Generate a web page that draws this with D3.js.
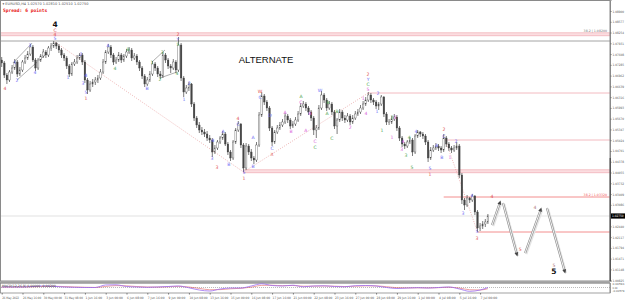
<!DOCTYPE html>
<html>
<head>
<meta charset="utf-8">
<script src="https://cdn.jsdelivr.net/npm/d3@7"></script>
<style>
html, body { margin: 0; padding: 0; background: #fff; overflow: hidden; }
svg { display: block; font-family: "DejaVu Sans", sans-serif; }
</style>
</head>
<body>
<script>
// EURUSD H4 bars, prices in pips (price * 10000)
const firstOpen = 10743;
const closes = [
  10734,10698,10683,10707,10719,10737,10701,10713,10737,10749,10761,10782,
  10743,10719,10743,10755,10767,10758,10779,10785,10794,10785,10773,10758,
  10749,10725,10701,10731,10737,10749,10758,10737,10683,10653,10671,10677,
  10683,10689,10707,10737,10767,10782,10758,10737,10743,10758,10743,10755,
  10767,10773,10749,10755,10737,10719,10695,10671,10683,10701,10731,10719,
  10701,10695,10758,10743,10725,10719,10737,10713,10788,10689,10647,10659,
  10671,10611,10569,10548,10533,10527,10521,10509,10503,10467,10479,10497,
  10509,10521,10491,10467,10449,10497,10533,10551,10488,10419,10485,10467,
  10449,10443,10488,10578,10635,10617,10599,10539,10497,10527,10539,10548,
  10557,10575,10563,10545,10551,10563,10581,10605,10611,10599,10587,10569,
  10533,10539,10599,10638,10623,10599,10611,10587,10545,10563,10587,10569,
  10563,10575,10557,10569,10581,10587,10599,10611,10623,10638,10623,10617,
  10605,10611,10632,10581,10557,10557,10566,10572,10539,10509,10491,10485,
  10497,10503,10467,10515,10527,10521,10515,10497,10449,10473,10479,10485,
  10479,10473,10509,10491,10479,10473,10479,10485,10398,10323,10308,10329,
  10323,10335,10287,10239,10245,10251,10257,10275
];
const highs = [
  10752,10740,10704,10713,10728,10746,10743,10722,10743,10758,10770,10791,
  10788,10749,10749,10761,10776,10773,10785,10794,10800,10797,10791,10779,
  10764,10755,10731,10737,10746,10758,10764,10764,10743,10689,10680,10686,
  10692,10698,10716,10746,10773,10791,10788,10764,10752,10767,10764,10761,
  10776,10782,10779,10764,10761,10743,10725,10701,10692,10710,10740,10737,
  10725,10710,10767,10764,10749,10731,10746,10743,10812,10794,10695,10668,
  10677,10674,10617,10575,10557,10542,10536,10530,10518,10509,10488,10503,
  10515,10530,10527,10497,10473,10503,10539,10560,10554,10494,10494,10491,
  10476,10455,10497,10587,10647,10641,10623,10605,10545,10533,10548,10557,
  10566,10584,10581,10569,10560,10572,10590,10614,10620,10617,10605,10593,
  10575,10548,10608,10650,10644,10629,10620,10617,10593,10569,10596,10593,
  10578,10584,10581,10578,10590,10596,10608,10620,10632,10647,10644,10629,
  10623,10617,10638,10635,10587,10566,10575,10581,10578,10545,10515,10497,
  10503,10512,10509,10521,10533,10530,10527,10521,10503,10482,10488,10494,
  10491,10485,10521,10515,10497,10485,10488,10497,10491,10404,10329,10338,
  10332,10341,10338,10293,10254,10260,10266,10281
];
const lows = [
  10722,10689,10671,10677,10701,10713,10692,10695,10707,10731,10743,10755,
  10737,10710,10713,10737,10749,10749,10752,10770,10779,10776,10764,10749,
  10740,10716,10692,10695,10725,10731,10743,10728,10674,10641,10647,10662,
  10668,10674,10683,10701,10731,10761,10749,10728,10731,10737,10734,10737,
  10749,10761,10740,10743,10728,10710,10686,10662,10665,10677,10695,10710,
  10692,10686,10689,10734,10716,10704,10713,10704,10707,10680,10632,10641,
  10650,10602,10560,10539,10524,10518,10512,10500,10494,10452,10461,10473,
  10491,10503,10485,10458,10440,10443,10491,10527,10479,10407,10413,10458,
  10440,10431,10437,10482,10572,10608,10590,10530,10485,10491,10521,10533,
  10542,10551,10554,10536,10539,10545,10557,10575,10599,10590,10578,10560,
  10518,10509,10533,10593,10614,10590,10593,10578,10536,10521,10557,10560,
  10554,10557,10548,10551,10563,10575,10581,10593,10605,10617,10614,10608,
  10596,10593,10605,10572,10548,10548,10551,10560,10530,10500,10482,10476,
  10479,10491,10455,10461,10509,10512,10506,10488,10437,10443,10467,10473,
  10470,10464,10467,10482,10470,10464,10467,10473,10389,10311,10293,10302,
  10314,10317,10278,10227,10230,10236,10242,10251
];

// time axis (one label every 8 bars)
const timeBars = [0,8,16,24,32,40,48,56,64,72,80,88,96,104,112,120,128,136,144,152,160,168,176,184];
const timeLabels = ["26 May 2022","26 May 16:00","30 May 00:00","31 May 08:00","1 Jun 16:00","3 Jun 00:00",
  "6 Jun 08:00","7 Jun 16:00","9 Jun 00:00","10 Jun 08:00","13 Jun 16:00","15 Jun 00:00",
  "16 Jun 08:00","17 Jun 16:00","21 Jun 00:00","22 Jun 08:00","23 Jun 16:00","27 Jun 00:00",
  "28 Jun 08:00","29 Jun 16:00","1 Jul 00:00","4 Jul 08:00","5 Jul 16:00","7 Jul 00:00"];

const priceTicks = [1.08900,1.08577,1.08254,1.07931,1.07608,1.07285,1.06962,1.06639,1.06316,1.05993,
  1.05670,1.05347,1.05024,1.04701,1.04378,1.04055,1.03732,1.03409,1.03086,1.02763,
  1.02440,1.02117,1.01794,1.01471,1.01148,1.00825];

// horizontal levels
const levelStart = [-1, -1, 141, 170.5, 93, 170, -1, 183];
const levelPips  = [10820, 10800, 10644, 10503, 10409, 10332, 10275, 10227];
const levelKind  = ["band","gray","pink","pink","band","red","bid","red"];

// trend lines [bar0, pips0, bar1, pips1]
const dottedLines = [[20.5,10797,93,10407],[93,10407,141,10644],[170,10518,183,10227]];
const grayLines = [[4.3,10734,11.7,10794],[5.9,10683,16.7,10758],[57.8,10737,62.8,10773],[60.9,10689,67.4,10707]];

// projected path (bars past the last one)
const projBars = [188.6, 191.7, 192.8, 198.2, 201.3, 207.4, 209.7, 216.6];
const projPips = [10248, 10317, 10314, 10158, 10164, 10296, 10299, 10107];

// wave labels [bar, pips, text, colour]
const waveLabels = [
  [20.5,10851,"4","k"],[20.5,10833,"C","r"],[20.5,10819,"4","r"],[20.5,10807,"5","b"],
  [10.9,10788,"3","b"],[5.1,10737,"1","b"],[5.9,10683,"2","b"],[12.8,10707,"4","b"],[1.3,10659,"4","r"],
  [25.5,10692,"1","b"],[30.5,10761,"2","b"],[31.3,10674,"3","b"],[32.4,10698,"4","b"],[32.4,10647,"5","b"],[32.4,10629,"1","r"],
  [40.9,10788,"A","b"],[43.6,10719,"4","g"],[48.6,10776,"B","g"],[55.9,10659,"B","b"],
  [57.8,10737,"1","g"],[61.7,10767,"3","g"],[60.9,10686,"2","g"],[67.4,10704,"4","g"],
  [67.8,10791,"5","g"],[67.8,10806,"Y","b"],[67.8,10821,"2","r"],
  [70.1,10626,"1","b"],[72.1,10674,"2","b"],[80.9,10449,"3","b"],[81.3,10503,"4","b"],[82.8,10422,"3","r"],
  [85.1,10530,"A","b"],[87.4,10431,"B","b"],[90.9,10569,"4","r"],[90.9,10551,"C","b"],
  [93.2,10407,"5","b"],[93.2,10389,"1","r"],[96.7,10512,"A","b"],[96.7,10425,"B","b"],
  [99.4,10650,"W","r"],[99.4,10632,"C","b"],[103.2,10578,"D","b"],[104,10479,"C","b"],[104,10461,"X","r"],
  [109,10587,"A","m"],[111.3,10530,"B","m"],[115.1,10635,"A","g"],[115.1,10617,"C","m"],
  [118.6,10584,"B","m"],[117,10533,"A","m"],[120.5,10500,"C","m"],[120.5,10482,"C","g"],
  [122.4,10653,"W","b"],[125.5,10617,"B","g"],[125.1,10584,"A","g"],[127,10509,"C","g"],[129,10590,"B","g"],
  [134,10542,"2","m"],[139,10629,"1","m"],[140.1,10584,"4","m"],
  [140.9,10701,"2","r"],[140.9,10686,"Y","b"],[140.9,10671,"C","g"],[140.9,10656,"5","m"],
  [144.7,10644,"2","b"],[144.3,10590,"1","b"],[146.3,10533,"1","g"],[150.1,10572,"2","g"],
  [151.3,10572,"3","m"],[150.1,10512,"1","m"],[154.3,10500,"4","m"],[153.9,10476,"3","m"],
  [155.5,10458,"3","g"],[156.7,10512,"4","g"],[157.8,10422,"5","g"],[159.3,10530,"4","b"],
  [164.7,10419,"5","b"],[164.7,10401,"1","r"],[167.4,10488,"A","b"],[169.3,10452,"B","b"],
  [170.1,10536,"2","r"],[170.1,10515,"C","b"],[172.4,10452,"1","m"],[174.7,10500,"2","b"],
  [177.4,10284,"3","b"],[180.9,10338,"4","b"],[182.8,10230,"5","b"],[182.8,10209,"3","r"],
  [188.6,10335,"4","r"],[199.4,10176,"5","r"],[205.1,10302,"4","x"],[212.4,10128,"5","x"],[212.4,10108,"5","k"]
];
const labelColors = {k:"#111", r:"#e0504e", b:"#6f6ff5", g:"#4fa64f", m:"#d95fd9", x:"#b07878"};

// oscillator in the lower window, one value every 4 bars
const oscBars = [0,4,8,12,16,20,24,28,32,36,40,44,48,52,56,60,64,68,72,76,80,84,88,92,
  96,100,104,108,112,116,120,124,128,132,136,140,144,148,152,156,160,164,168,172,176,180,184,187];
const macdMain = [0.0009,0.0009,0.0009,0.0017,0.0026,0.0020,0.0009,0.0003,0.0000,0.0000,0.0043,0.0046,
  0.0017,0.0009,0.0003,0.0009,0.0017,0.0026,-0.0005,-0.0043,-0.0060,-0.0026,-0.0009,-0.0009,
  0.0026,0.0063,0.0034,0.0026,0.0039,0.0012,0.0026,0.0029,0.0017,0.0012,0.0031,0.0034,
  0.0026,0.0000,-0.0017,-0.0009,-0.0003,-0.0009,0.0000,0.0009,-0.0025,-0.0065,-0.0043,0.0000];
const macdSignal = [0.0006,0.0008,0.0009,0.0012,0.0018,0.0021,0.0016,0.0009,0.0004,0.0001,0.0018,0.0032,
  0.0028,0.0016,0.0008,0.0007,0.0012,0.0019,0.0008,-0.0015,-0.0038,-0.0036,-0.0022,-0.0014,
  0.0006,0.0036,0.0038,0.0031,0.0034,0.0022,0.0023,0.0026,0.0022,0.0016,0.0022,0.0028,
  0.0027,0.0013,-0.0003,-0.0007,-0.0005,-0.0007,-0.0003,0.0004,-0.0010,-0.0038,-0.0042,-0.0020];

var width = 625, height = 301,
    chartRight = 610, chartBottom = 281;

var svg = d3.select("body").append("svg")
    .attr("width", width)
    .attr("height", height);

svg.append("rect").attr("width", width).attr("height", height).attr("fill", "#fff");

var x = d3.scaleLinear().domain([0, 187]).range([1.7, 487.9]);
var y = d3.scaleLinear().domain([1.0923, 1.0080]).range([0, chartBottom]);
var px = p => y(p / 10000);

svg.append("defs").append("clipPath").attr("id", "clip")
    .append("rect").attr("x", 0).attr("y", 0).attr("width", chartRight).attr("height", chartBottom);

var g = svg.append("g").attr("clip-path", "url(#clip)");

// levels
levelPips.forEach(function(p, i) {
    var x0 = levelStart[i] < 0 ? 0 : x(levelStart[i]);
    var k = levelKind[i];
    if (k === "band") {
        g.append("rect")
            .attr("x", x0).attr("y", px(p + 4.5))
            .attr("width", chartRight - x0).attr("height", px(p - 4.5) - px(p + 4.5))
            .attr("fill", "#fbdde0").attr("stroke", "#eda3ab").attr("stroke-width", 0.6);
    } else {
        var col = {gray: "#9a9a9a", pink: "#f0a8b0", red: "#f07272", bid: "#d9d9d9"}[k];
        g.append("line")
            .attr("x1", x0).attr("x2", chartRight)
            .attr("y1", px(p)).attr("y2", px(p))
            .attr("stroke", col).attr("stroke-width", k === "gray" ? 0.9 : 0.8);
    }
});

g.append("text").attr("x", 607).attr("y", px(levelPips[0] + 5) - 0.5)
    .attr("text-anchor", "end").attr("font-size", 3.2).attr("fill", "#777")
    .text("38.2 | 1.08200");
g.append("text").attr("x", 607).attr("y", px(levelPips[5]) - 1)
    .attr("text-anchor", "end").attr("font-size", 3.2).attr("fill", "#f05a5a")
    .text("38.2 | 1.03320");

// trend lines
dottedLines.forEach(function(d) {
    g.append("line")
        .attr("x1", x(d[0])).attr("y1", px(d[1])).attr("x2", x(d[2])).attr("y2", px(d[3]))
        .attr("stroke", "#e79a9a").attr("stroke-width", 0.7).attr("stroke-dasharray", "1,1.4");
});
grayLines.forEach(function(d) {
    g.append("line")
        .attr("x1", x(d[0])).attr("y1", px(d[1])).attr("x2", x(d[2])).attr("y2", px(d[3]))
        .attr("stroke", "#777").attr("stroke-width", 0.6);
});

// candles
var bars = closes.map(function(c, i) {
    return {i: i, o: i ? closes[i - 1] : firstOpen, h: highs[i], l: lows[i], c: c};
});
g.selectAll("line.wick").data(bars).enter().append("line")
    .attr("class", "wick")
    .attr("x1", d => x(d.i)).attr("x2", d => x(d.i))
    .attr("y1", d => px(d.h)).attr("y2", d => px(d.l))
    .attr("stroke", "#444").attr("stroke-width", 0.7);
g.selectAll("rect.body").data(bars).enter().append("rect")
    .attr("class", "body")
    .attr("x", d => x(d.i) - 0.8)
    .attr("y", d => px(Math.max(d.o, d.c)))
    .attr("width", 1.6)
    .attr("height", d => Math.max(0.6, Math.abs(px(d.o) - px(d.c))))
    .attr("fill", d => d.c >= d.o ? "#fff" : "#444")
    .attr("stroke", "#444").attr("stroke-width", 0.35);

// projected path
for (var s = 0; s < projBars.length; s += 2) {
    var x1 = x(projBars[s]), y1 = px(projPips[s]), x2 = x(projBars[s + 1]), y2 = px(projPips[s + 1]);
    g.append("line").attr("x1", x1 + 1).attr("y1", y1 + 1).attr("x2", x2 + 1).attr("y2", y2 + 1)
        .attr("stroke", "#e4e4e4").attr("stroke-width", 2.6);
    g.append("line").attr("x1", x1).attr("y1", y1).attr("x2", x2).attr("y2", y2)
        .attr("stroke", "#8c8c8c").attr("stroke-width", 2.2);
    g.append("line").attr("x1", x1).attr("y1", y1).attr("x2", x2).attr("y2", y2)
        .attr("stroke", "#f4f4f4").attr("stroke-width", 1);
    var a = Math.atan2(y2 - y1, x2 - x1);
    var pts = [[x2 + Math.cos(a) * 1.5, y2 + Math.sin(a) * 1.5],
               [x2 + Math.cos(a + 2.5) * 3.2, y2 + Math.sin(a + 2.5) * 3.2],
               [x2 + Math.cos(a - 2.5) * 3.2, y2 + Math.sin(a - 2.5) * 3.2]];
    g.append("path").attr("d", "M" + pts.join("L") + "Z").attr("fill", "#444");
}

// wave labels
waveLabels.forEach(function(d) {
    var big = d[3] === "k";
    g.append("text")
        .attr("x", x(d[0])).attr("y", px(d[1]))
        .attr("text-anchor", "middle").attr("dominant-baseline", "central")
        .attr("font-size", big ? 7.5 : 4.6)
        .attr("font-weight", big ? "bold" : "normal")
        .attr("fill", labelColors[d[3]])
        .text(d[2]);
});

g.append("text").attr("x", 266).attr("y", 63)
    .attr("text-anchor", "middle").attr("font-family", "Liberation Sans, Arial, sans-serif")
    .attr("font-size", 9.5).attr("fill", "#111").text("ALTERNATE");

// header
var last = bars[bars.length - 1];
var f5 = p => (p / 10000).toFixed(5);
svg.append("text").attr("x", 2.5).attr("y", 5).attr("font-size", 3.5).attr("fill", "#555")
    .text("\u25BE EURUSD,H4  " + [last.o, last.h, last.l, last.c].map(f5).join(" "));
svg.append("text").attr("x", 3).attr("y", 12).attr("font-size", 4.6).attr("font-weight", "bold")
    .attr("font-family", "DejaVu Sans Mono, monospace").attr("fill", "#e82020")
    .text("Spread: 6 points");

// frame
svg.append("rect").attr("x", 0.5).attr("y", 0.5).attr("width", chartRight - 0.5).attr("height", chartBottom - 0.5)
    .attr("fill", "none").attr("stroke", "#8a8a8a").attr("stroke-width", 1);

// price axis
var yAxis = svg.append("g")
    .attr("transform", "translate(" + chartRight + ",0)")
    .call(d3.axisRight(y).tickValues(priceTicks).tickSize(1.5).tickFormat(d3.format(".5f")));
yAxis.select(".domain").attr("stroke", "#8a8a8a");
yAxis.selectAll(".tick line").attr("stroke", "#777");
yAxis.selectAll("text").attr("x", 2.5).attr("font-size", 3.2).attr("fill", "#555")
    .attr("textLength", 11.5).attr("lengthAdjust", "spacingAndGlyphs")
    .attr("font-family", "DejaVu Sans, sans-serif");
svg.append("line").attr("x1", chartRight + 0.3).attr("x2", chartRight + 0.3)
    .attr("y1", 158).attr("y2", chartBottom).attr("stroke", "#555").attr("stroke-width", 1.4);

// current price box
svg.append("rect").attr("x", chartRight + 1).attr("y", px(last.c) - 2.6)
    .attr("width", 14).attr("height", 5.2).attr("fill", "#000");
svg.append("text").attr("x", chartRight + 2).attr("y", px(last.c) + 1.2)
    .attr("font-size", 3.2).attr("fill", "#fff")
    .attr("textLength", 11.5).attr("lengthAdjust", "spacingAndGlyphs").text(f5(last.c));

// oscillator window
var iy = d3.scaleLinear().domain([0.00765, -0.00935]).range([283, 293]);
svg.append("rect").attr("x", 0).attr("y", 281).attr("width", chartRight).attr("height", 2.2).attr("fill", "#a6a6a6");
svg.append("rect").attr("x", 0.5).attr("y", 283.2).attr("width", chartRight - 0.5).attr("height", 9.8)
    .attr("fill", "none").attr("stroke", "#8a8a8a").attr("stroke-width", 0.8);
svg.append("line").attr("x1", 1).attr("x2", chartRight).attr("y1", iy(0)).attr("y2", iy(0))
    .attr("stroke", "#777").attr("stroke-width", 0.5).attr("stroke-dasharray", "1,1");
var oscLine = vals => d3.line().x((d, i) => x(oscBars[i])).y(d => iy(d)).curve(d3.curveMonotoneX)(vals);
svg.append("path").attr("d", oscLine(macdSignal)).attr("fill", "none").attr("stroke", "#e06060").attr("stroke-width", 0.6);
svg.append("path").attr("d", oscLine(macdMain)).attr("fill", "none").attr("stroke", "#9b6cf0").attr("stroke-width", 0.8);
svg.append("text").attr("x", 2).attr("y", 287).attr("font-size", 3.2).attr("fill", "#444")
    .text("MACD(12,26,9) " + macdMain[macdMain.length - 1].toFixed(5) + " " + macdSignal[macdSignal.length - 1].toFixed(5));
[0.00591, 0, -0.00579].forEach(function(v) {
    svg.append("text").attr("x", chartRight + 2.5).attr("y", iy(v) + 1.1)
        .attr("font-size", 2.8).attr("fill", "#555")
        .attr("textLength", v === 0 ? 5 : 12).attr("lengthAdjust", "spacingAndGlyphs")
        .text(v === 0 ? "0.00" : v.toFixed(5));
});
svg.append("line").attr("x1", chartRight + 0.3).attr("x2", chartRight + 0.3).attr("y1", 283).attr("y2", 293)
    .attr("stroke", "#8a8a8a");

// time axis
var xAxis = svg.append("g")
    .attr("transform", "translate(0,293)")
    .call(d3.axisBottom(x).tickValues(timeBars).tickSize(1.5).tickFormat((d, i) => timeLabels[i]));
xAxis.select(".domain").remove();
xAxis.selectAll(".tick line").attr("stroke", "#777");
xAxis.selectAll("text").attr("text-anchor", "start").attr("dy", 0).attr("y", 5.5)
    .attr("font-size", 3.2).attr("fill", "#555").attr("font-family", "DejaVu Sans, sans-serif")
    .attr("textLength", (d, i) => timeLabels[i].length * 1.52).attr("lengthAdjust", "spacingAndGlyphs");
</script>
</body>
</html>
